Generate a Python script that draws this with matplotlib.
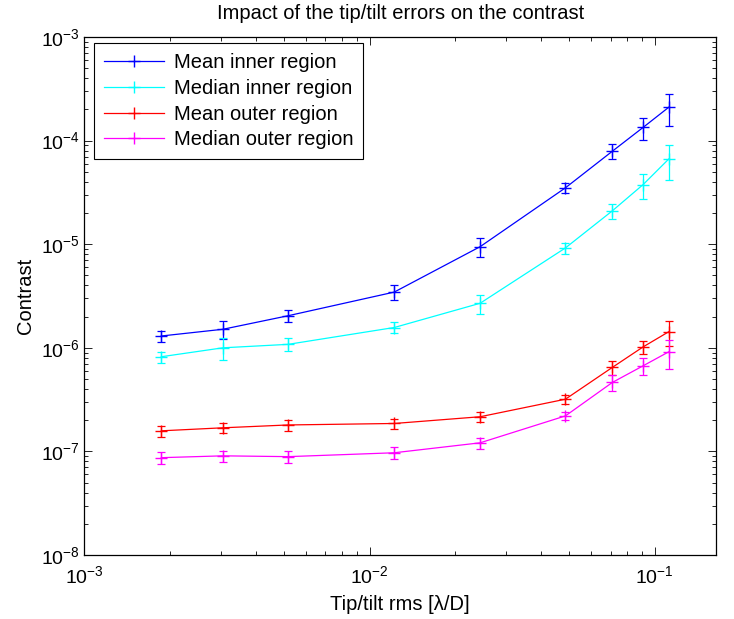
import matplotlib
matplotlib.use("Agg")
import matplotlib.pyplot as plt
from matplotlib.ticker import LogLocator, NullFormatter

plt.rcParams["font.family"] = ["Liberation Sans", "DejaVu Sans"]
plt.rcParams["mathtext.fontset"] = "custom"
plt.rcParams["mathtext.rm"] = "Liberation Sans"
plt.rcParams["mathtext.it"] = "Liberation Sans:italic"

tiptilt = [0.00186, 0.00306, 0.00518, 0.0122, 0.0244, 0.0486, 0.071, 0.091, 0.112]

mean_inner = [1.30e-6, 1.51e-6, 2.04e-6, 3.45e-6, 9.46e-6, 3.5e-5, 7.9e-5, 1.34e-4, 2.1e-4]
mean_inner_err = [1.6e-7, 2.9e-7, 2.6e-7, 5.7e-7, 2.0e-6, 3.9e-6, 1.3e-5, 3.3e-5, 7.3e-5]

median_inner = [8.2e-7, 1.0e-6, 1.08e-6, 1.57e-6, 2.69e-6, 9.2e-6, 2.1e-5, 3.76e-5, 6.65e-5]
median_inner_err = [1.0e-7, 2.4e-7, 1.5e-7, 1.9e-7, 5.6e-7, 1.1e-6, 3.5e-6, 1.05e-5, 2.5e-5]

mean_outer = [1.58e-7, 1.69e-7, 1.80e-7, 1.86e-7, 2.16e-7, 3.19e-7, 6.47e-7, 1.02e-6, 1.43e-6]
mean_outer_err = [1.9e-8, 2.0e-8, 2.25e-8, 2.0e-8, 2.4e-8, 3.5e-8, 1.04e-7, 1.5e-7, 3.9e-7]

median_outer = [8.7e-8, 9.06e-8, 8.9e-8, 9.7e-8, 1.21e-7, 2.2e-7, 4.63e-7, 6.7e-7, 9.15e-7]
median_outer_err = [1.1e-8, 1.1e-8, 1.1e-8, 1.3e-8, 1.45e-8, 2.0e-8, 8.1e-8, 1.2e-7, 2.85e-7]

series = [
    ("Mean inner region", mean_inner, mean_inner_err, "#0000ff"),
    ("Median inner region", median_inner, median_inner_err, "#00ffff"),
    ("Mean outer region", mean_outer, mean_outer_err, "#ff0000"),
    ("Median outer region", median_outer, median_outer_err, "#ff00ff"),
]

fig = plt.figure(figsize=(7.34, 6.19), dpi=100)
ax = fig.add_axes([0.1151, 0.1034, 0.8604, 0.8368])

handles = []
etiquetas = []
for nom, vals, errs, col in series:
    cont = ax.errorbar(tiptilt, vals, yerr=errs, color=col, marker="+",
                       markersize=8, linewidth=0.9, elinewidth=0.9,
                       capsize=3, capthick=0.9)
    handles.append(cont.lines[0])
    etiquetas.append(nom)

ax.set_xscale("log")
ax.set_yscale("log")
ax.set_xlim(1e-3, 0.164)
ax.set_ylim(1e-8, 1e-3)

ax.xaxis.set_minor_locator(LogLocator(base=10, subs=range(2, 10)))
ax.yaxis.set_minor_locator(LogLocator(base=10, subs=range(2, 10), numticks=20))
ax.xaxis.set_minor_formatter(NullFormatter())
ax.yaxis.set_minor_formatter(NullFormatter())
ax.tick_params(which="both", direction="in", top=True, right=True, labelsize=14)
ax.tick_params(axis="x", which="major", pad=7)
ax.tick_params(which="major", length=6, width=0.6)
ax.tick_params(which="minor", length=3, width=0.6)
for s in ax.spines.values():
    s.set_linewidth(0.9)

ax.set_title("Impact of the tip/tilt errors on the contrast", fontsize=14.5, pad=13)
ax.set_xlabel("Tip/tilt rms [λ/D]", fontsize=14.5, labelpad=6)
ax.set_ylabel("Contrast", fontsize=14.5)

leg = ax.legend(handles, etiquetas, loc="upper left", fontsize=14.5, fancybox=False,
                framealpha=1, edgecolor="black", borderaxespad=0,
                bbox_to_anchor=(0.015, 0.988),
                handlelength=3.0, labelspacing=0.33, borderpad=0.5,
                handletextpad=0.45)
leg.get_frame().set_linewidth(0.8)

plt.savefig("out.png", dpi=100)
plt.close(fig)
